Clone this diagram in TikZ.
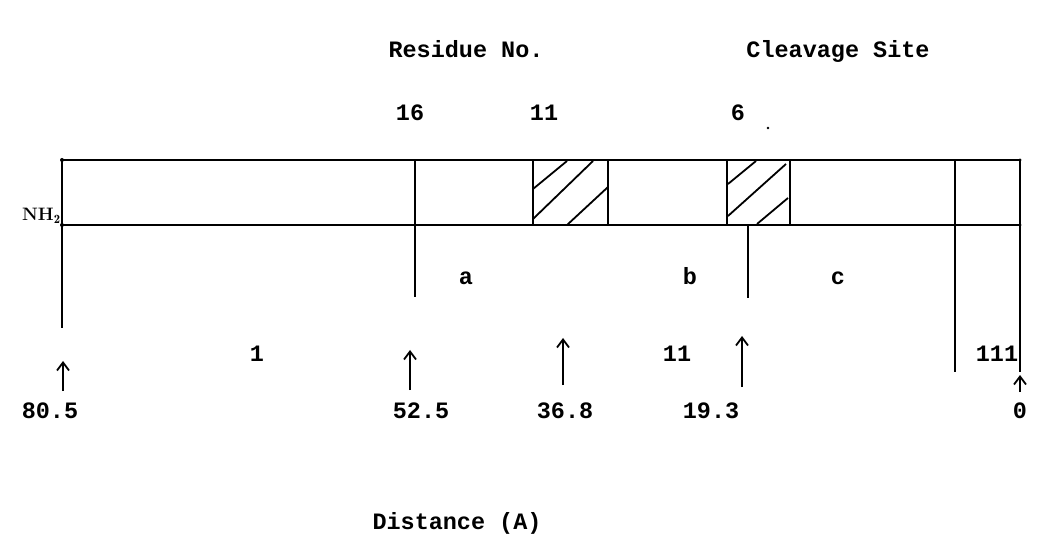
\documentclass[tikz,border=0pt]{standalone}
\usepackage{fontspec}
\setmonofont{Liberation Mono}
\usetikzlibrary{arrows.meta}
\begin{document}
\begin{tikzpicture}[x=0.75pt,y=-0.75pt,
  txt/.style={font=\ttfamily\bfseries\fontsize{17.6}{19}\selectfont, inner sep=0pt, anchor=base},
  rule/.style={line width=1.35pt},
  hatch/.style={line width=1.35pt},
  uparrow/.style={line width=1.35pt, -{Straight Barb[length=6pt,width=9pt,line width=1.35pt]}}]
\useasboundingbox (0,0) rectangle (1037,548);

% peptide bar
\coordinate (tl) at (62,160);
\coordinate (tr) at (1020,160);
\coordinate (bl) at (62,225);
\coordinate (br) at (1020,225);
\draw[rule] (tl) -- (tr);
\draw[rule] (bl) -- (br);
\fill (tl) circle (2) (bl) circle (2) (tr) circle (1.7) (br) circle (1.7);

% dividing lines and fragment markers
\draw[rule] (62,160) -- (62,328);
\draw[rule] (415,160) -- (415,297);
\draw[rule] (955,160) -- (955,372);
\draw[rule] (1020,160) -- (1020,372);
\draw[rule] (748,225) -- (748,298);

% hatched segments
\draw[rule] (533,160) -- (533,225) (608,160) -- (608,225);
\draw[hatch] (533,189) -- (567,161) (533,219) -- (593,161) (567,225) -- (608,187);
\draw[rule] (727,160) -- (727,225) (790,160) -- (790,225);
\draw[hatch] (728,184) -- (756,161) (728,216) -- (786,164) (757,224) -- (788,198);

% labels
\node[txt] (res) at (466,58) {Residue No.};
\node[txt] (cleav) at (838,58) {Cleavage Site};
\node[txt] (r16) at (410,121) {16};
\node[txt] (r11) at (544,121) {11};
\node[txt] (r6) at (738,121) {6};
\fill (768,128) circle (1.3);
\node[font=\fontsize{13.5}{14}\selectfont\bfseries, inner sep=0pt, anchor=base east] (nh) at (61,221) {NH$_{\mathbf 2}$};

\node[txt] (fa) at (466,285) {a};
\node[txt] (fb) at (690,285) {b};
\node[txt] (fc) at (838,285) {c};
\node[txt] (p1) at (257,361) {1};
\node[txt] (p2) at (677,361) {11};
\node[txt] (p3) at (997,361) {111};

% distances
\node[txt] (d1) at (50,418) {80.5};
\node[txt] (d2) at (421,418) {52.5};
\node[txt] (d3) at (565,418) {36.8};
\node[txt] (d4) at (711,418) {19.3};
\node[txt] (d5) at (1020,418) {0};
\draw[uparrow] (63,391) -- (63,361);
\draw[uparrow] (410,390) -- (410,350);
\draw[uparrow] (563,385) -- (563,338);
\draw[uparrow] (742,387) -- (742,336);
\draw[uparrow] (1020,392) -- (1020,375);

\node[txt] (dist) at (457,529) {Distance (A)};
\end{tikzpicture}
\end{document}
